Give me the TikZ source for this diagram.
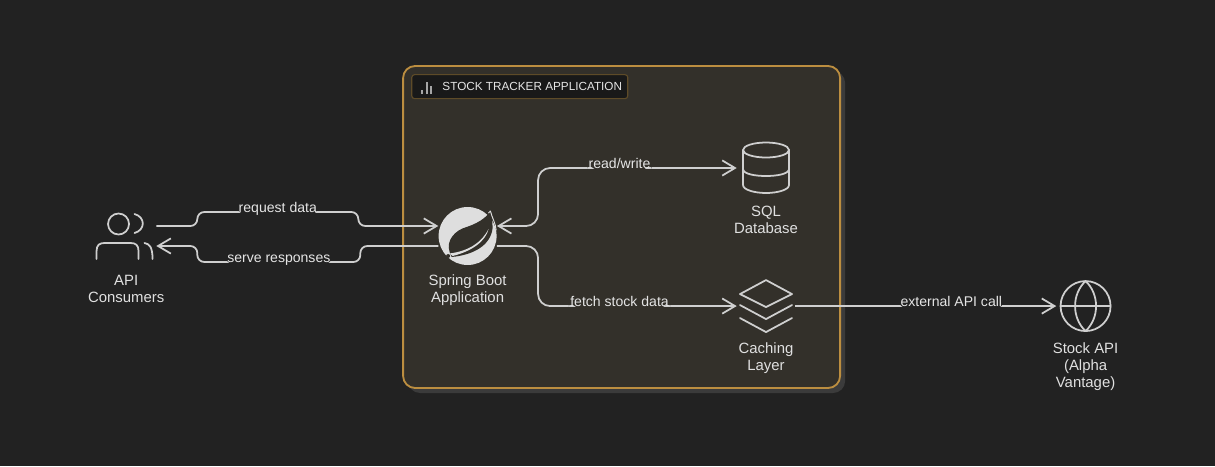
\documentclass[tikz,border=0pt]{standalone}
\usepackage{fontspec}
\setmainfont{Liberation Sans}
\usetikzlibrary{arrows.meta,positioning}
\definecolor{page}{HTML}{222222}
\definecolor{groupbg}{HTML}{33302A}
\definecolor{groupedge}{HTML}{BC8E40}
\definecolor{groupshadow}{HTML}{3B3B3B}
\definecolor{titlebg}{HTML}{191919}
\definecolor{titleedge}{HTML}{5E4B28}
\definecolor{stroke}{HTML}{CFCFCF}
\definecolor{logo}{HTML}{DEDEDE}

\begin{document}
\begin{tikzpicture}[
  font=\fontsize{10}{12.1}\selectfont,
  iconbox/.style={minimum size=1.45cm, inner sep=0pt},
  caption/.style={text=white!88!black, align=center, inner sep=0pt, font=\fontsize{10.6}{12.1}\selectfont},
  flow/.style={-{Straight Barb[length=3.2mm,width=3.8mm]}, line width=1.25pt, draw=stroke, rounded corners=0.175cm},
  bigflow/.style={flow, rounded corners=0.3cm},
  edgetext/.style={text=white!90!black, text height=7.3pt, text depth=0.2pt, inner xsep=1pt, inner ysep=1pt, yshift=0.12cm},
  glyph/.style={x=0.025cm, y=-0.025cm, line width=1.25pt, draw=stroke, line cap=round, line join=round}
]

\fill[page] (0,0) rectangle (30.375,11.65);
\useasboundingbox (0,0) rectangle (30.375,11.65);

% group box
\node[fill=groupshadow,rounded corners=0.3cm,minimum width=10.925cm,minimum height=8.05cm] (shadow) at (15.665,5.85) {};
\node[draw=groupedge,fill=groupbg,line width=1.3pt,rounded corners=0.3cm,minimum width=10.925cm,minimum height=8.05cm] (group) at (15.54,5.975) {};
\node[draw=titleedge,fill=titlebg,line width=0.8pt,rounded corners=2pt,minimum width=5.4cm,minimum height=0.6cm,
  below right=0.225cm and 0.225cm of group.north west] (title) {};
\node[right=0.775cm of title.west,inner sep=0pt,text=white!90!black,font=\fontsize{8.35}{10}\selectfont] (titletext) {STOCK TRACKER APPLICATION};

% icon places
\node[iconbox] (spring) at (11.69,5.75) {};
\node[iconbox,left=7.05cm of spring] (consumers) {};
\node[iconbox] (sql) at (19.15,7.45) {};
\node[iconbox,below=1.9875cm of sql] (cache) {};
\node[iconbox,right=6.525cm of cache] (stockapi) {};

\node[caption,below=0.23cm of consumers,xshift=-0.02cm] (consumerstext) {API\\Consumers};
\node[caption,below=0.23cm of spring] (springtext) {Spring Boot\\Application};
\node[caption,below=0.22cm of sql] (sqltext) {SQL\\Database};
\node[caption,below=0.17cm of cache] (cachetext) {Caching\\Layer};
\node[caption,below=0.17cm of stockapi] (stockapitext) {Stock API\\(Alpha\\Vantage)};

% connectors
\draw[flow] ([yshift=0.25cm]consumers.east) -- ++(1.025,0) -- ++(0,0.35) --
  node[edgetext,fill=page]{request data} ++(4.025,0) -- ++(0,-0.35) -- ([yshift=0.25cm]spring.west);
\draw[flow] ([yshift=-0.25cm]spring.west) -- ++(-1.95,0) -- ++(0,-0.4) --
  node[edgetext,fill=page,pos=0.5]{serve responses} ++(-4.075,0) -- ++(0,0.4) -- ([yshift=-0.25cm]consumers.east);
\draw[bigflow,{Straight Barb[length=3.2mm,width=3.8mm]}-{Straight Barb[length=3.2mm,width=3.8mm]}] ([yshift=0.25cm]spring.east) -- ++(1.03,0) |-
  node[edgetext,fill=groupbg,pos=0.705]{read/write} (sql.west);
\draw[bigflow] ([yshift=-0.25cm]spring.east) -- ++(1.03,0) |-
  node[edgetext,fill=groupbg,pos=0.705]{fetch stock data} (cache.west);
\draw[flow] (cache.east) -- node[edgetext,fill=page,pos=0.65]{external API call} ++(6,0) -- (stockapi.west);

% icons
\begin{scope}[shift={([xshift=-0.0625cm]consumers.center)},glyph]
  \draw (-6,-12) circle [radius=10.5];
  \draw (10,-22) .. controls (21,-19) and (21,-6) .. (10,-3);
  \draw (-28,23) -- (-28,15) .. controls (-28,9) and (-25,7) .. (-20,7) -- (6,7) .. controls (11,7) and (14,9) .. (14,15) -- (14,23);
  \draw (20,7) .. controls (25,8) and (28,11) .. (28,23);
\end{scope}

\begin{scope}[shift={(spring.center)},glyph]
  \fill[logo] (0,0) circle [radius=29];
  \fill[groupbg] (22.8,-25) .. controls (18,-17) and (8,-12) .. (-1,-9) .. controls (-12,-6) and (-22,4) .. (-18,16)
    -- (-16,21) .. controls (5,19) and (23,10) .. (25,-8) .. controls (25,-14) and (24,-20) .. (22.8,-25) -- cycle;
  \fill[logo] (-18,17.5) .. controls (0,15) and (13,8) .. (21,-7) .. controls (18,5) and (5,15) .. (-15,20) -- cycle;
  \fill[groupbg] (-19.5,20) circle [radius=2];
  \draw[draw=logo,line width=0.7pt] (21,-23) -- (22.8,-25) .. controls (24.5,-18) and (28,-13) .. (28.5,-6);
\end{scope}

\begin{scope}[shift={(sql.center)},glyph]
  \draw (0,-18) ellipse [x radius=23, y radius=7.5];
  \draw (-23,-18) -- (-23,17) .. controls (-23,22) and (-11,25) .. (0,25) .. controls (11,25) and (23,22) .. (23,17) -- (23,-18);
  \draw (-23,1) .. controls (-23,6) and (-11,8) .. (0,8) .. controls (11,8) and (23,6) .. (23,1);
\end{scope}

\begin{scope}[shift={(cache.center)},glyph]
  \draw (0,-26) -- (26,-12) -- (0,1) -- (-26,-12) -- cycle;
  \draw (-26,-1) -- (0,13) -- (26,-1);
  \draw (-26,12) -- (0,26) -- (26,12);
\end{scope}

\begin{scope}[shift={(stockapi.center)},glyph]
  \draw (0,0) circle [radius=25];
  \draw (-25,0) -- (0,0) -- (25,0);
  \draw (0,-25) .. controls (-14,-12) and (-14,12) .. (0,25) .. controls (14,12) and (14,-12) .. (0,-25);
\end{scope}

\begin{scope}[shift={(title.west)},glyph,draw=white!65!black,line width=1.5pt,line cap=butt]
  \draw (10.5,7.5) -- (10.5,3);
  \draw (15.5,7.5) -- (15.5,-5);
  \draw (20,7.5) -- (20,-1);
\end{scope}

\end{tikzpicture}
\end{document}
